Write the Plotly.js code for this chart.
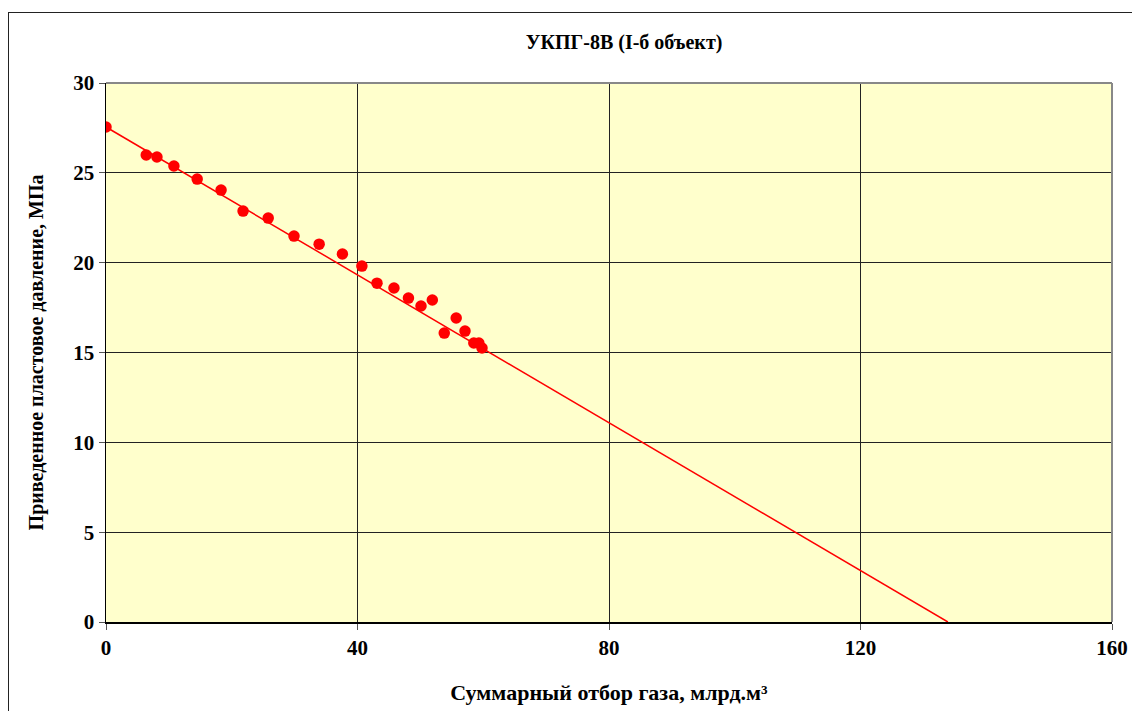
<!DOCTYPE html>
<html>
<head>
<meta charset="utf-8">
<script src="https://cdn.plot.ly/plotly-3.0.1.min.js"></script>
<style>
  html, body { margin: 0; padding: 0; background: #fff; overflow: hidden; }
  #chart { width: 1132px; height: 711px; }
  #frame { position: absolute; left: 8px; top: 12px; width: 1200px; height: 800px;
           border-left: 1.5px solid #222; border-top: 1.5px solid #222;
           pointer-events: none; box-sizing: border-box; }
</style>
</head>
<body>
<div id="chart"></div>
<div id="frame"></div>
<script>
// Measured data points: cumulative gas withdrawal (bcm) vs reduced reservoir pressure (MPa)
const cumGas = [0, 6.4, 8.1, 10.8, 14.5, 18.3, 21.8, 25.8, 29.9, 33.9, 37.6, 40.7,
                43.1, 45.8, 48.1, 50.1, 51.9, 53.8, 55.7, 57.1, 58.5, 59.3, 59.8];
const pressure = [27.55, 25.99, 25.88, 25.38, 24.65, 24.04, 22.87, 22.48, 21.48, 21.03, 20.48, 19.81,
                  18.86, 18.59, 18.03, 17.59, 17.92, 16.08, 16.92, 16.19, 15.53, 15.53, 15.25];
// Trend line end points
const trendX = [0, 133.9];
const trendY = [27.55, 0];
const xTicks = [0, 40, 80, 120, 160];
const yTicks = [0, 5, 10, 15, 20, 25, 30];

const serif = "Liberation Serif, Times New Roman, serif";

const traces = [
  { x: trendX, y: trendY, mode: 'lines', type: 'scatter',
    line: { color: '#FF0000', width: 1.5 }, hoverinfo: 'skip', showlegend: false },
  { x: cumGas, y: pressure, mode: 'markers', type: 'scatter',
    marker: { color: '#FF0000', size: 11.5, line: { width: 0 } }, showlegend: false }
];

const layout = {
  width: 1132, height: 711,
  margin: { l: 106, r: 20, t: 83, b: 89 },
  paper_bgcolor: '#FFFFFF',
  plot_bgcolor: '#FFFFCC',
  title: { text: '<b>УКПГ-8В (I-б объект)</b>', x: 0.515, xref: 'paper', xanchor: 'center',
           y: 43, yref: 'container', yanchor: 'middle',
           font: { family: serif, size: 20, color: '#000' } },
  xaxis: {
    range: [0, 160], tickvals: xTicks, ticktext: xTicks.map(v => '<b>' + v + '</b>'),
    showgrid: true, gridcolor: '#222', gridwidth: 1,
    showline: true, linecolor: '#000', linewidth: 1.5, mirror: false,
    ticks: 'outside', ticklen: 6, tickcolor: '#555', tickwidth: 1,
    zeroline: false,
    tickfont: { family: serif, size: 21, color: '#000' },
    title: { text: '<b>Суммарный отбор газа, млрд.м³</b>', standoff: 26,
             font: { family: serif, size: 22, color: '#000' } }
  },
  yaxis: {
    range: [0, 30], tickvals: yTicks, ticktext: yTicks.map(v => '<b>' + v + '</b>'),
    showgrid: true, gridcolor: '#222', gridwidth: 1,
    showline: true, linecolor: '#000', linewidth: 1.5, mirror: false,
    ticks: 'outside', ticklen: 6, tickcolor: '#555', tickwidth: 1,
    zeroline: false,
    tickfont: { family: serif, size: 21, color: '#000' },
    title: { text: '<b>Приведенное пластовое давление, МПа</b>', standoff: 24,
             font: { family: serif, size: 20, color: '#000' } }
  },
  shapes: [
    { type: 'line', xref: 'paper', yref: 'paper', x0: 0, x1: 1, y0: 1, y1: 1,
      line: { color: '#888', width: 2 } },
    { type: 'line', xref: 'paper', yref: 'paper', x0: 1, x1: 1, y0: 0, y1: 1,
      line: { color: '#888', width: 2 } }
  ]
};

Plotly.newPlot('chart', traces, layout, { displayModeBar: false, staticPlot: true });
</script>
</body>
</html>
